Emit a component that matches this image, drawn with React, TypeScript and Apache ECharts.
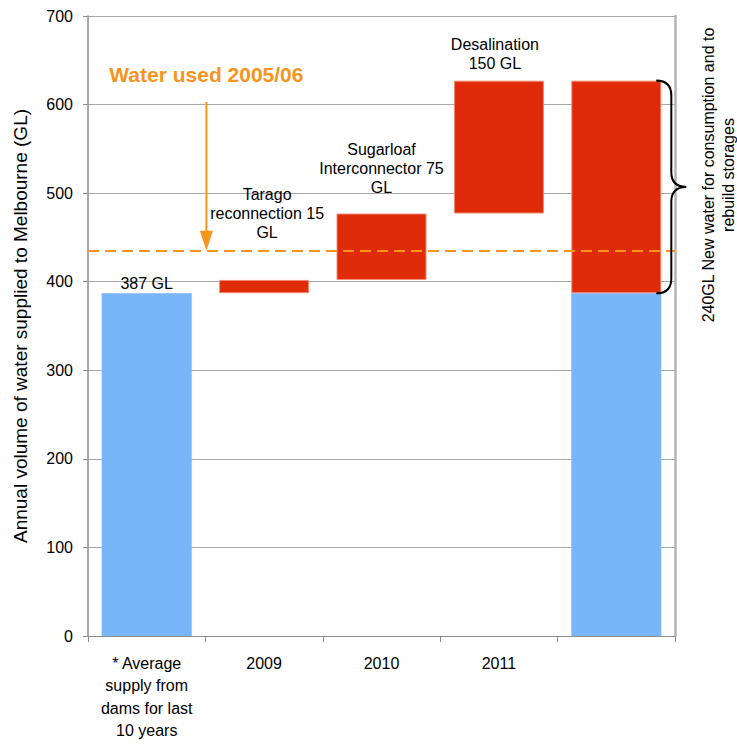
import React, { useEffect, useRef } from "react";
import * as echarts from "echarts";

// Categories along the x axis
const categories = [
  "* Average\nsupply from\ndams for last\n10 years",
  "2009",
  "2010",
  "2011",
  "",
];

// Average supply from dams (GL) – blue bars
const damSupply: (number | "-")[] = [387, "-", "-", "-", 387];
// New water added by each project (GL) – red bars; the last entry is the total
const newSupply: (number | "-")[] = ["-", 15, 75, 150, 240];
// Label text for each project ({v} is replaced by the project's volume)
const projectLabels = [
  "",
  "Tarago\nreconnection {v}\nGL",
  "Sugarloaf\nInterconnector {v}\nGL",
  "Desalination\n{v} GL",
  "",
];
// Water used in 2005/06 (GL)
const waterUsed0506 = 435;
// Y axis range
const yMin = 0;
const yMax = 700;
const yStep = 100;

const ORANGE = "#F7941D";
const RED = "#E02B08";
const BLUE = "#78B5F9";
const FONT = "'Liberation Sans', Arial, Helvetica, sans-serif";

// Curly brace outline, 30 x 200 units, scaled vertically when placed
echarts.graphic.registerShape(
  "brace",
  echarts.graphic.extendPath(
    "M0,0 C9,0 15,4 15,14 L15,86 C15,95 20,100 30,100 C20,100 15,105 15,114 L15,186 C15,196 9,200 0,200",
    {}
  )
);

// Running total on which each project's bar sits
function projectBases(): (number | "-")[] {
  const bases: (number | "-")[] = [];
  let running = damSupply[0] as number;
  for (let i = 0; i < newSupply.length; i++) {
    const v = newSupply[i];
    if (v === "-" || damSupply[i] !== "-") {
      bases.push("-");
    } else {
      bases.push(running);
      running += v;
    }
  }
  return bases;
}

export default function App() {
  const ref = useRef<HTMLDivElement>(null);

  useEffect(() => {
    if (!ref.current) return;
    const chart = echarts.init(ref.current, undefined, { renderer: "svg" });

    const labelGaps = [0, 38, 17, 8, 0];
    const labelShifts = [0, 3, 0, -4, 0];
    const bases = projectBases();

    const blueData = damSupply.map((v, i) =>
      i === 0 && v !== "-"
        ? {
            value: v,
            label: {
              show: true,
              position: "top",
              distance: 0,
              formatter: `${v} GL`,
              fontSize: 16,
              lineHeight: 19,
              color: "#000",
            },
          }
        : v
    );

    const redData = newSupply.map((v, i) =>
      projectLabels[i] && v !== "-"
        ? {
            value: v,
            label: {
              show: true,
              position: "top",
              distance: labelGaps[i],
              offset: [labelShifts[i], 0],
              formatter: projectLabels[i].replace("{v}", String(v)),
              fontSize: 16,
              lineHeight: 19,
              color: "#000",
              align: "center",
            },
          }
        : v
    );

    chart.setOption({
      animation: false,
      textStyle: { fontFamily: FONT },
      grid: { left: 88, right: 62, top: 16, bottom: 109 },
      xAxis: {
        type: "category",
        data: categories,
        axisLine: { show: true, lineStyle: { color: "#8c8c8c", width: 1 } },
        axisTick: { show: true, length: 6, interval: 0, lineStyle: { color: "#8c8c8c" } },
        axisLabel: {
          interval: 0,
          margin: 16,
          fontSize: 16,
          lineHeight: 22.5,
          color: "#000",
          fontFamily: FONT,
        },
      },
      yAxis: [
        {
          type: "value",
          min: yMin,
          max: yMax,
          interval: yStep,
          name: "Annual volume of water supplied to Melbourne (GL)",
          nameLocation: "middle",
          nameGap: 58,
          nameTextStyle: { fontSize: 19, color: "#000", fontFamily: FONT },
          axisLine: { show: true, lineStyle: { color: "#8c8c8c", width: 1.5 } },
          axisTick: { show: true, length: 5, lineStyle: { color: "#8c8c8c" } },
          axisLabel: { fontSize: 16, color: "#000", margin: 15, fontFamily: FONT },
          splitLine: { show: true, lineStyle: { color: "#a8a8a8", width: 1 } },
        },
        {
          type: "value",
          min: yMin,
          max: yMax,
          interval: yStep,
          position: "right",
          axisLine: { show: true, lineStyle: { color: "#b4b4b4", width: 2.5 } },
          axisTick: { show: false },
          axisLabel: { show: false },
          splitLine: { show: false },
        },
      ],
      series: [
        {
          name: "Dam supply",
          type: "bar",
          stack: "total",
          barWidth: 90,
          data: blueData,
          itemStyle: { color: BLUE },
          z: 2,
        },
        {
          name: "Base",
          type: "bar",
          stack: "total",
          barWidth: 90,
          data: bases,
          itemStyle: { color: "transparent" },
          silent: true,
          z: 2,
        },
        {
          name: "New water",
          type: "bar",
          stack: "total",
          barWidth: 90,
          data: redData,
          itemStyle: { color: RED, borderColor: "#F28A76", borderWidth: 1 },
          z: 3,
          markLine: {
            silent: true,
            symbol: "none",
            label: { show: false },
            lineStyle: { color: ORANGE, type: [11, 6], width: 2 },
            data: [{ yAxis: waterUsed0506 }],
            z: 5,
          },
        },
      ],
    });

    // Annotations placed from axis coordinates
    const yPx = (v: number) => chart.convertToPixel({ yAxisIndex: 0 }, v) as number;
    const xPx = (i: number) => chart.convertToPixel({ xAxisIndex: 0 }, i) as number;

    const arrowX = (xPx(0) + xPx(1)) / 2 + 1;
    const arrowTop = yPx(603);
    const arrowTip = yPx(waterUsed0506);

    const lastIdx = newSupply.length - 1;
    const totalBottom = damSupply[lastIdx] as number;
    const totalAdded = newSupply[lastIdx] as number;
    const braceTop = yPx(totalBottom + totalAdded);
    const braceBottom = yPx(totalBottom);
    const braceX = xPx(lastIdx) + 40;

    chart.setOption({
      graphic: [
        {
          type: "text",
          x: arrowX,
          y: arrowTop - 27,
          style: {
            text: "Water used 2005/06",
            fill: ORANGE,
            font: `bold 21px ${FONT}`,
            textAlign: "center",
            textVerticalAlign: "middle",
          },
          z: 10,
        },
        {
          type: "line",
          shape: { x1: arrowX, y1: arrowTop, x2: arrowX, y2: arrowTip - 18 },
          style: { stroke: ORANGE, lineWidth: 2 },
          z: 10,
        },
        {
          type: "polygon",
          shape: {
            points: [
              [arrowX - 6.5, arrowTip - 20],
              [arrowX + 6.5, arrowTip - 20],
              [arrowX, arrowTip],
            ],
          },
          style: { fill: ORANGE },
          z: 10,
        },
        {
          type: "brace",
          x: braceX,
          y: braceTop,
          scaleX: 1,
          scaleY: (braceBottom - braceTop) / 200,
          style: { stroke: "#000", lineWidth: 2, fill: "none", strokeNoScale: true },
          z: 10,
        },
        {
          type: "text",
          x: 718,
          y: 175,
          rotation: Math.PI / 2,
          style: {
            text: `${totalAdded}GL New water for consumption and to\nrebuild storages`,
            fill: "#000",
            font: `16px ${FONT}`,
            lineHeight: 20,
            textAlign: "center",
            textVerticalAlign: "middle",
          },
          z: 10,
        },
      ],
    });

    return () => chart.dispose();
  }, []);

  return (
    <div
      ref={ref}
      style={{ position: "absolute", left: 0, top: 0, width: 737, height: 745, background: "#fff" }}
    />
  );
}
